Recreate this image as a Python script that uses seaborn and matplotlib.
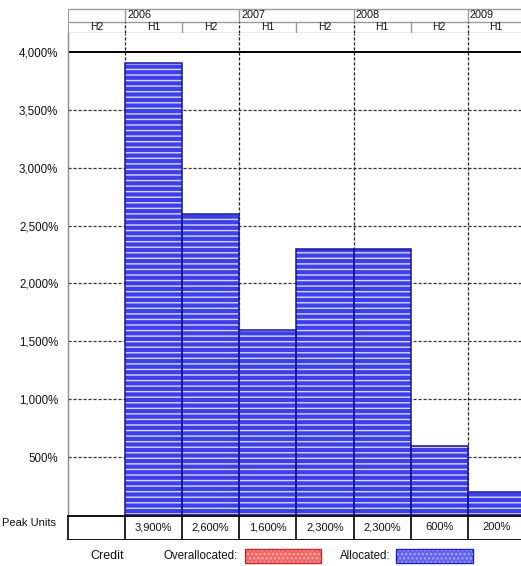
import numpy as np
import pandas as pd
import matplotlib
matplotlib.use("Agg")
import matplotlib.pyplot as plt
import seaborn as sns
from matplotlib.patches import Rectangle

# ---------------- data ----------------
years = ["", "2006", "", "2007", "", "2008", "", "2009"]
halves = ["H2", "H1", "H2", "H1", "H2", "H1", "H2", "H1"]
peak_units = [np.nan, 3900, 2600, 1600, 2300, 2300, 600, 200]
peak_labels = ["", "3,900%", "2,600%", "1,600%", "2,300%", "2,300%", "600%", "200%"]
y_ticks = [500, 1000, 1500, 2000, 2500, 3000, 3500, 4000]
y_tick_labels = ["500%", "1,000%", "1,500%", "2,000%", "2,500%", "3,000%", "3,500%", "4,000%"]
resource_name = "Credit"
legend_labels = ["Overallocated:", "Allocated:"]

sns.set_theme(style="white")
plt.rcParams["font.family"] = ["Liberation Sans", "DejaVu Sans"]
plt.rcParams["hatch.linewidth"] = 1.0

W, H = 521, 566
fig = plt.figure(figsize=(W / 100, H / 100), dpi=100)

def ax_px(x0, y0, x1, y1):
    return fig.add_axes([x0 / W, 1 - y1 / H, (x1 - x0) / W, (y1 - y0) / H])

X0, X1 = 68, 521
colw = 57.1
xmax = -0.5 + (X1 - X0) / colw
XLIM = (-0.5, xmax)

BLUE = "#3f3fe8"
EDGE = "#16169a"
TXT = "#111111"

df = pd.DataFrame({"period": [f"{i}" for i in range(len(halves))],
                   "units": peak_units})

# ---------------- main plot ----------------
ax = ax_px(X0, 33, X1, 515)
sns.barplot(data=df, x="period", y="units", ax=ax, width=1.0,
            color=BLUE, saturation=1, linewidth=0, edgecolor="#d8d8ff", zorder=3)
for p in ax.patches:
    p.set_hatch("---")
    p.set_facecolor(BLUE)
    p.set_edgecolor("#d8d8ff")
    p.set_linewidth(0)
sns.barplot(data=df, x="period", y="units", ax=ax, width=1.0,
            fill=False, color=EDGE, linewidth=1.1, zorder=4)
ax.set_xlim(*XLIM)
ax.set_ylim(0, 4163)
ax.set_xlabel("")
ax.set_ylabel("")
ax.set_xticks([])
ax.set_yticks(y_ticks)
ax.set_yticklabels(y_tick_labels, fontsize=8.3, color=TXT)
ax.tick_params(axis="y", length=6, width=1, color="#333333", pad=1, direction="out")
for yv in y_ticks:
    if yv == 4000:
        ax.axhline(yv, color="black", lw=1.4, zorder=2)
    else:
        ax.axhline(yv, color="#333333", lw=0.9, ls=(0, (2.5, 1.5)), zorder=1)
for xb in [0.5, 2.5, 4.5, 6.5]:
    ax.axvline(xb, color="#222222", lw=0.9, ls=(0, (2.5, 1.5)), zorder=2)
for s in ["top", "right", "bottom"]:
    ax.spines[s].set_visible(False)
ax.spines["left"].set_color("#888888")
ax.spines["left"].set_linewidth(1)
ax.set_facecolor("white")

# ---------------- header ----------------
hx = ax_px(X0, 9, X1, 33)
hx.set_xlim(*XLIM)
hx.set_ylim(0, 2)
hx.axis("off")
grey = "#9a9a9a"
hx.plot([XLIM[0], XLIM[1]], [2, 2], color=grey, lw=1, clip_on=False)
hx.plot([XLIM[0], XLIM[1]], [0.95, 0.95], color=grey, lw=1)
hx.plot([XLIM[0], XLIM[1]], [0.02, 0.02], color=grey, lw=1)
hx.plot([XLIM[0], XLIM[0]], [0, 2], color=grey, lw=1.5)
for i in range(len(halves)):
    left = i - 0.5
    if years[i]:
        hx.plot([left, left], [0.95, 2], color=grey, lw=1)
        hx.plot([left, left], [0, 0.95], color="#222222", lw=0.9, ls=(0, (2.5, 1.5)))
        hx.text(left + 0.04, 1.47, years[i], fontsize=7.8, va="center", ha="left", color=TXT)
    elif i > 0:
        hx.plot([left, left], [0, 0.95], color=grey, lw=1)
    hx.text(i, 0.47, halves[i], fontsize=7.5, va="center", ha="center", color=TXT)

# ---------------- peak units table ----------------
tx = ax_px(0, 515, W, 540)
tx.set_xlim(0, W)
tx.set_ylim(1, 0)
tx.axis("off")
tx.plot([X0, W], [0.02, 0.02], color="black", lw=1.3)
tx.plot([X0, W], [0.98, 0.98], color="black", lw=1.3)
for i in range(len(halves)):
    xl = X0 + i * colw
    tx.plot([xl, xl], [0, 1], color="black", lw=1.2)
    tx.text(xl + colw / 2, 0.5, peak_labels[i], fontsize=8, ha="center", va="center", color=TXT)
tx.text(2, 0.3, "Peak Units", fontsize=8, ha="left", va="center", color=TXT)

# ---------------- legend row ----------------
lx = ax_px(0, 540, W, 566)
lx.set_xlim(0, W)
lx.set_ylim(26, 0)
lx.axis("off")
lx.text(90, 16, resource_name, fontsize=9, ha="left", va="center", color=TXT)
lx.text(163, 16, legend_labels[0], fontsize=8.3, ha="left", va="center", color=TXT)
lx.add_patch(Rectangle((245, 9), 76, 14, facecolor="#f06868", edgecolor="#ffb0b0", hatch="....", lw=0))
lx.add_patch(Rectangle((245, 9), 76, 14, fill=False, edgecolor="#d02020", lw=1))
lx.text(340, 16, legend_labels[1], fontsize=8.3, ha="left", va="center", color=TXT)
lx.add_patch(Rectangle((396, 9), 77, 14, facecolor="#6464f0", edgecolor="#b0b0ff", hatch="....", lw=0))
lx.add_patch(Rectangle((396, 9), 77, 14, fill=False, edgecolor="#2020c0", lw=1))

fig.savefig("out.png", dpi=100)
